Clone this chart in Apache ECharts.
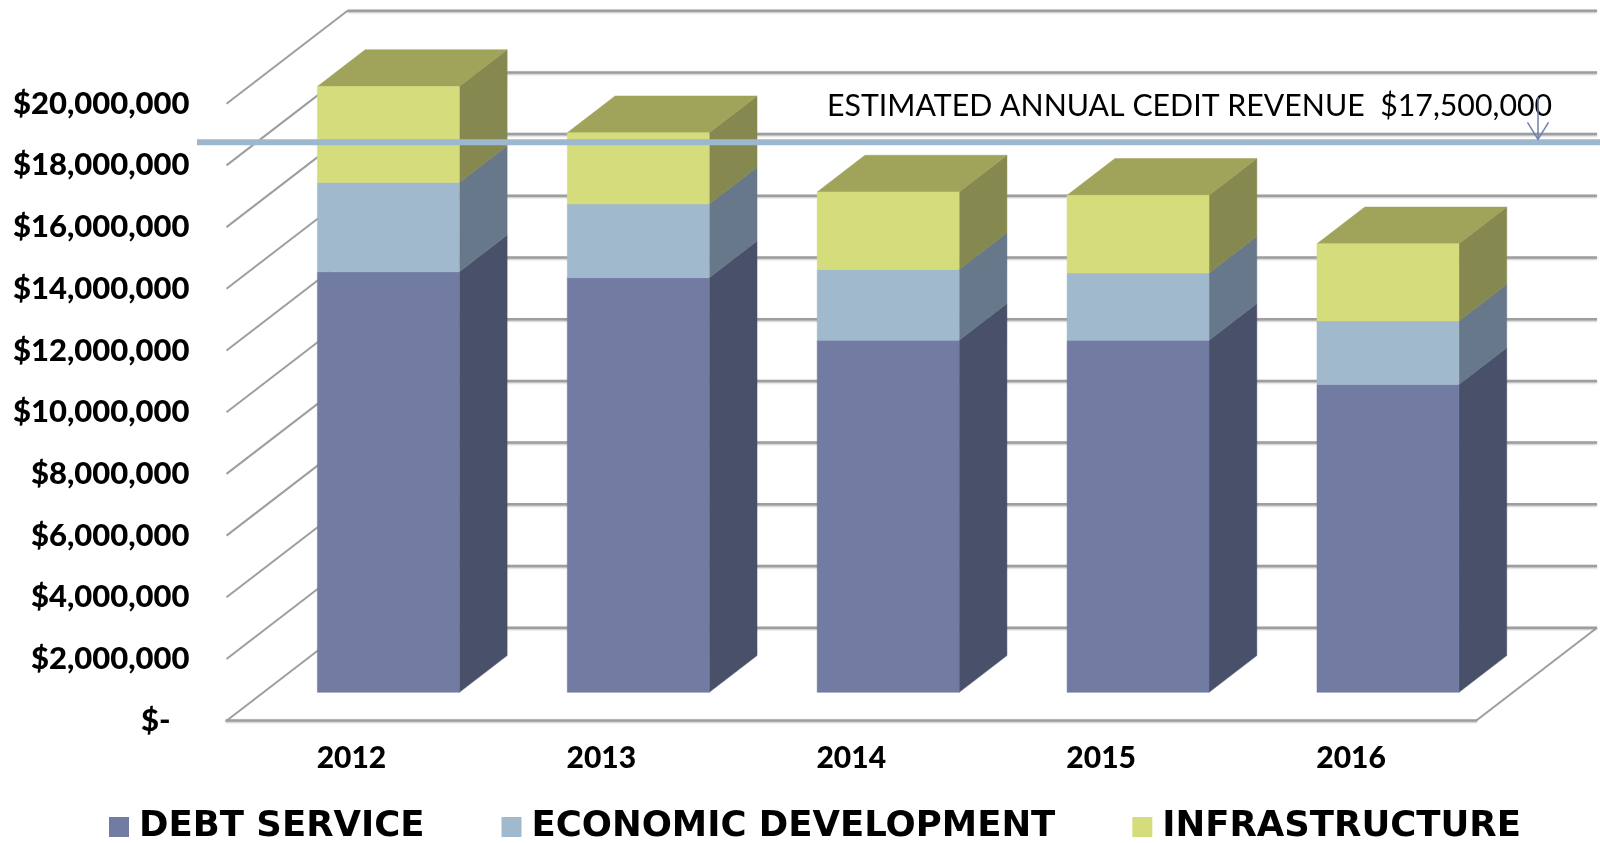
<!DOCTYPE html>
<html>
<head>
<meta charset="utf-8">
<title>CEDIT revenue</title>
<script src="https://cdn.jsdelivr.net/npm/echarts@6/dist/echarts.min.js"></script>
<style>
    html, body { margin: 0; padding: 0; background: #fff; }
    #chart { width: 1600px; height: 843px; }
</style>
</head>
<body>
<div id="chart"></div>
<script>
// 数据
const categories = ['2012', '2013', '2014', '2015', '2016'];
const debtService = [13630000, 13440000, 11410000, 11410000, 9980000];
const economicDevelopment = [2900000, 2390000, 2300000, 2180000, 2060000];
const infrastructure = [3110000, 2310000, 2510000, 2520000, 2500000];
const axisTicks = [0, 2000000, 4000000, 6000000, 8000000, 10000000, 12000000, 14000000, 16000000, 18000000, 20000000];
const tickLabels = ['$-', '$2,000,000', '$4,000,000', '$6,000,000', '$8,000,000', '$10,000,000', '$12,000,000', '$14,000,000', '$16,000,000', '$18,000,000', '$20,000,000'];
const revenueEstimate = [17500000];
const revenueLabel = 'ESTIMATED ANNUAL CEDIT REVENUE  $17,500,000';

// 假3D的进深方向
const DEPTH_X = 121;
const DEPTH_Y = 93;
const BAR_FRONT = 0.305;
const BAR_BACK = 0.70;
const BAR_HALF = 0.284;   // 相对类目宽度
const REVENUE_DEPTH = 0.414;

const FONT = 'Lato, "Noto Sans", sans-serif';
const WALL_COLOR = '#9e9e9e';
const WALL_SHADOW = { shadowColor: 'rgba(0,0,0,0.25)', shadowBlur: 2, shadowOffsetY: 1 };

function project(api, cat, value, depth, bandOffset) {
    const p = api.coord([cat, value]);
    const band = api.size([1, 0])[0];
    return [p[0] + (bandOffset || 0) * band + depth * DEPTH_X, p[1] - depth * DEPTH_Y];
}

function polygon(points, color) {
    return { type: 'polygon', shape: { points: points }, style: { fill: color, stroke: color, lineWidth: 0.5 } };
}

// 每段柱子：正面、侧面，最上面一段加顶面
function barRenderer(colors, hasTop) {
    return function (params, api) {
        const cat = api.value(0), low = api.value(1), high = api.value(2);
        const children = [];
        const fl = project(api, cat, low, BAR_FRONT, -BAR_HALF);
        const fr = project(api, cat, low, BAR_FRONT, BAR_HALF);
        const tl = project(api, cat, high, BAR_FRONT, -BAR_HALF);
        const tr = project(api, cat, high, BAR_FRONT, BAR_HALF);
        const br = project(api, cat, low, BAR_BACK, BAR_HALF);
        const bt = project(api, cat, high, BAR_BACK, BAR_HALF);
        const bl = project(api, cat, high, BAR_BACK, -BAR_HALF);
        children.push(polygon([fr, tr, bt, br], colors.side));
        if (hasTop) {
            children.push(polygon([tl, tr, bt, bl], colors.top));
        }
        children.push(polygon([fl, fr, tr, tl], colors.front));
        return { type: 'group', children: children };
    };
}

// 背景墙：左侧斜线 + 背面横线
function wallRenderer(params, api) {
    const value = api.value(1);
    const last = categories.length - 1;
    const a = project(api, 0, value, 0, -0.5);
    const b = project(api, 0, value, 1, -0.5);
    const c = project(api, last, value, 1, 0.5);
    const children = [
        { type: 'line', shape: { x1: a[0], y1: a[1], x2: b[0], y2: b[1] }, style: { stroke: WALL_COLOR, lineWidth: 2 } },
        { type: 'line', shape: { x1: b[0], y1: b[1], x2: c[0], y2: c[1] }, style: Object.assign({ stroke: WALL_COLOR, lineWidth: 2.5 }, WALL_SHADOW) }
    ];
    if (value === 0) {
        const d = project(api, last, value, 0, 0.5);
        children.push({ type: 'line', shape: { x1: c[0], y1: c[1], x2: d[0], y2: d[1] }, style: { stroke: WALL_COLOR, lineWidth: 2 } });
    }
    return { type: 'group', children: children };
}

// 预算线和箭头
function revenueRenderer(params, api) {
    const last = categories.length - 1;
    const right = project(api, last, api.value(1), REVENUE_DEPTH, 0.5);
    const y = right[1];
    const tipX = 1538;
    return {
        type: 'group',
        children: [
            { type: 'line', shape: { x1: 197, y1: y, x2: 1600, y2: y }, style: { stroke: '#9db7cf', lineWidth: 6 } },
            { type: 'line', shape: { x1: tipX, y1: y - 45, x2: tipX, y2: y - 3 }, style: { stroke: '#6f7fae', lineWidth: 1.5 } },
            { type: 'polyline', shape: { points: [[tipX - 10.5, y - 20], [tipX, y - 3], [tipX + 10.5, y - 20]] }, style: { stroke: '#6f7fae', lineWidth: 1.5, fill: null } }
        ]
    };
}

const palette = {
    debt: { front: '#727ba1', side: '#495069', top: '#5c6484' },
    econ: { front: '#a0b9cd', side: '#66788a', top: '#7d91a3' },
    infra: { front: '#d5dc7c', side: '#85894f', top: '#a0a35a' }
};

function stackData(values, below) {
    return values.map((v, i) => [i, below[i], below[i] + v]);
}
const debtTop = debtService.map((v) => v);
const econTop = debtService.map((v, i) => v + economicDevelopment[i]);
const zeros = debtService.map(() => 0);

const chart = echarts.init(document.getElementById('chart'));
chart.setOption({
    animation: false,
    backgroundColor: '#fff',
    grid: { left: 226.5, right: 124, top: 103.7, bottom: 122.3 },
    xAxis: {
        type: 'category',
        data: categories,
        axisTick: { show: false },
        axisLine: { lineStyle: Object.assign({ color: WALL_COLOR, width: 2.5 }, WALL_SHADOW) },
        axisLabel: { margin: 23, color: '#000', fontFamily: FONT, fontWeight: 900, fontSize: 30 }
    },
    yAxis: {
        type: 'value',
        min: 0,
        max: 20000000,
        interval: 2000000,
        axisLine: { show: false },
        axisTick: { show: false },
        splitLine: { show: false },
        axisLabel: {
            margin: 37,
            color: '#000',
            fontFamily: FONT,
            fontWeight: 900,
            fontSize: 31,
            formatter: (v) => {
                const text = tickLabels[axisTicks.indexOf(v)];
                return v === 0 ? '{zero|' + text + '}' : text;
            },
            rich: {
                zero: { color: '#000', fontFamily: FONT, fontWeight: 900, fontSize: 31, padding: [0, 19, 0, 0] }
            }
        }
    },
    legend: {
        left: 109,
        top: 809,
        padding: 0,
        itemWidth: 20,
        itemHeight: 20,
        itemGap: 77,
        icon: 'rect',
        data: ['DEBT SERVICE', 'ECONOMIC DEVELOPMENT', 'INFRASTRUCTURE'],
        textStyle: { color: '#000', fontFamily: '"DejaVu Sans", sans-serif', fontWeight: 'bold', fontSize: 35.5, padding: [0, 0, 0, 5] }
    },
    graphic: [{
        type: 'text',
        left: 827,
        top: 91,
        z: 5,
        style: { text: revenueLabel, fill: '#000', font: '30.3px ' + FONT }
    }],
    series: [
        {
            type: 'custom', name: 'walls', z: 1, silent: true,
            renderItem: wallRenderer,
            encode: { x: 0, y: 1 },
            data: axisTicks.map((v) => [0, v])
        },
        {
            type: 'custom', name: 'DEBT SERVICE', z: 2, silent: true,
            itemStyle: { color: palette.debt.front },
            renderItem: barRenderer(palette.debt, false),
            encode: { x: 0, y: [1, 2] },
            data: stackData(debtService, zeros)
        },
        {
            type: 'custom', name: 'ECONOMIC DEVELOPMENT', z: 3, silent: true,
            itemStyle: { color: palette.econ.front },
            renderItem: barRenderer(palette.econ, false),
            encode: { x: 0, y: [1, 2] },
            data: stackData(economicDevelopment, debtTop)
        },
        {
            type: 'custom', name: 'INFRASTRUCTURE', z: 4, silent: true,
            itemStyle: { color: palette.infra.front },
            renderItem: barRenderer(palette.infra, true),
            encode: { x: 0, y: [1, 2] },
            data: stackData(infrastructure, econTop)
        },
        {
            type: 'custom', name: 'revenue', z: 6, silent: true,
            renderItem: revenueRenderer,
            encode: { x: 0, y: 1 },
            data: revenueEstimate.map((v) => [0, v])
        }
    ]
});
</script>
</body>
</html>
